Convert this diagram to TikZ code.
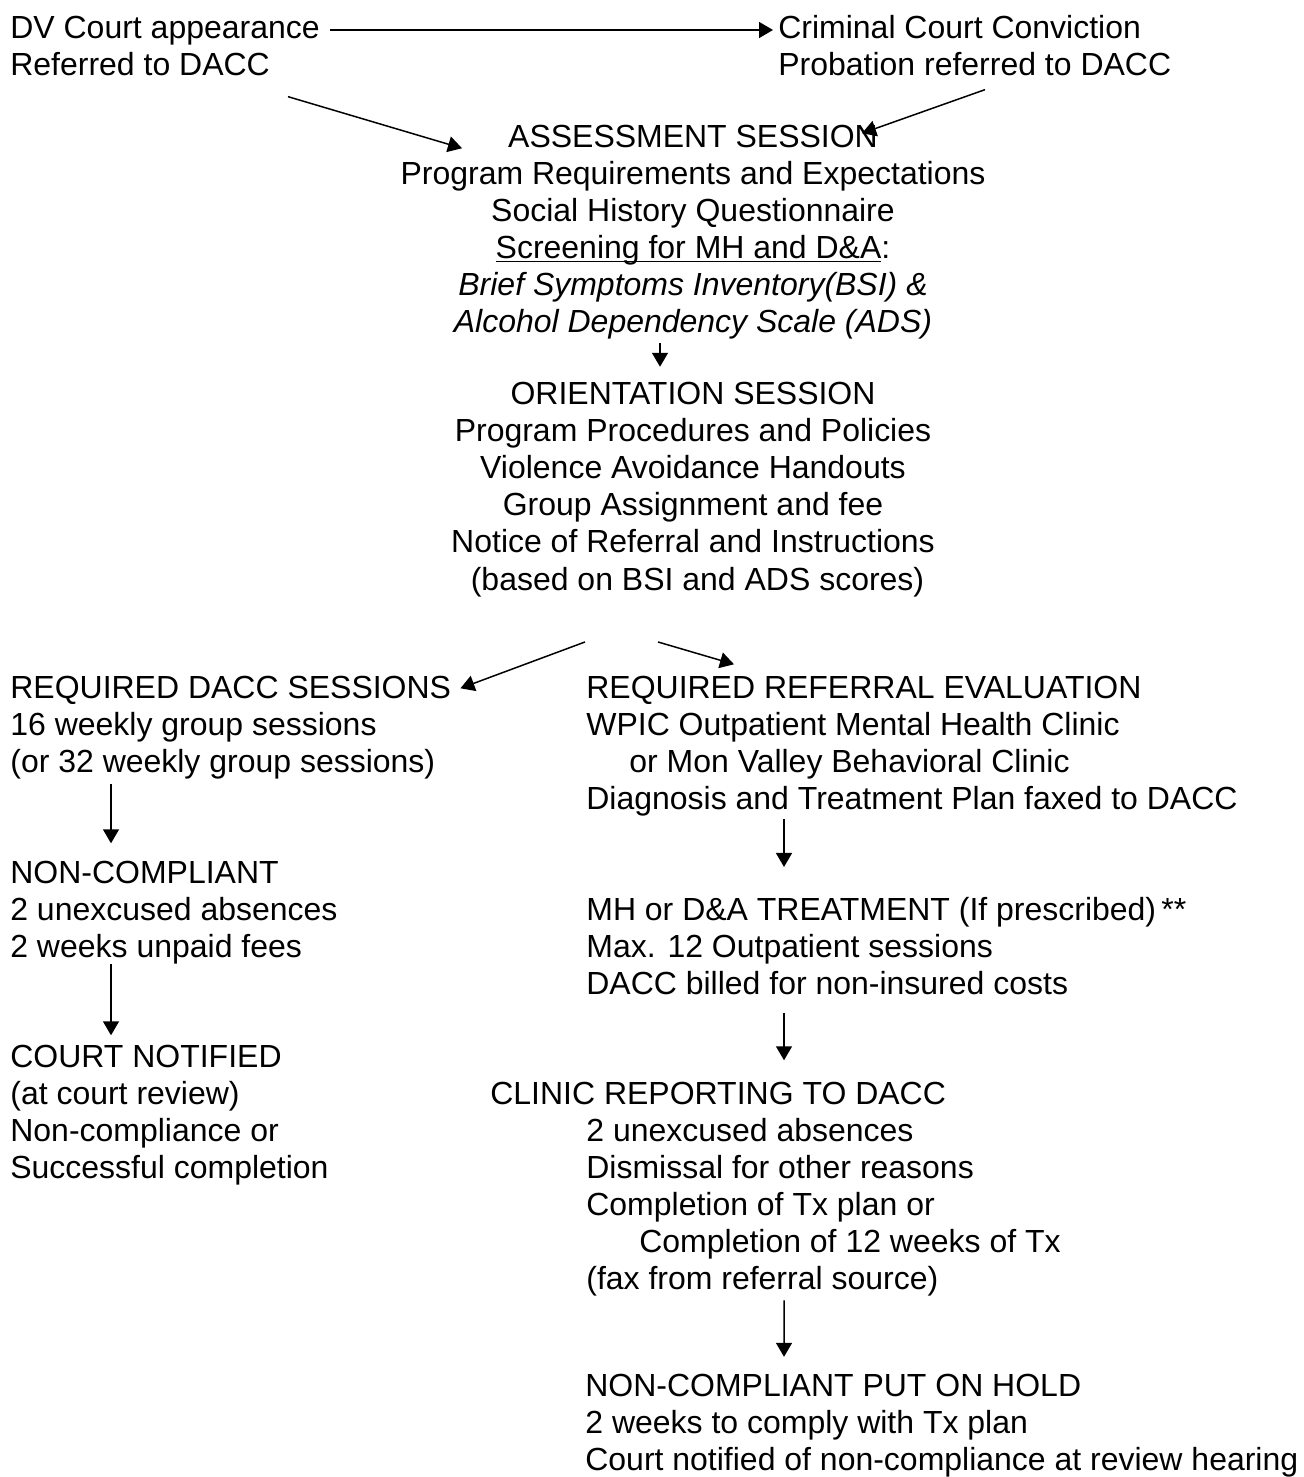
\documentclass[tikz,border=0pt]{standalone}
\usepackage{fontspec}
\setmainfont{Liberation Sans}
\usetikzlibrary{arrows.meta,positioning}
\newcommand{\ulinetext}[1]{\setbox0\hbox{#1}\rlap{\rule[-2.2pt]{\wd0}{0.9pt}}\box0}

\begin{document}
\begin{tikzpicture}[
			flowtext/.style={
				anchor=base west,
				align=left,
				inner sep=0pt,
				font=\fontsize{18.2}{21.06}\selectfont
			},
			centertext/.style={
				flowtext,
				anchor=base,
				align=center
			},
			flowarrow/.style={
				-{Triangle[length=0.28cm,width=0.32cm]},
				line width=0.85pt
			}
			]
			
			\useasboundingbox (0,0) rectangle (26.06,-29.54);
			
			\node[flowtext] (dvcourt) at (0.2,-1.51) {
				DV Court appearance\\
				Referred to DACC};
			
			\node[flowtext] (criminal) at (15.56,-1.51) {
				Criminal Court Conviction\\
				Probation referred to DACC};
			
			\node[centertext] (assess) at (13.86,-6.65) {
				ASSESSMENT SESSION\\
				Program Requirements and Expectations\\
				Social History Questionnaire\\
				\ulinetext{Screening for MH and D\&A}:\\
				\textit{Brief Symptoms Inventory(BSI) \&}\\
				\textit{Alcohol Dependency Scale (ADS)}};
			
			\node[centertext] (orient) at (13.86,-11.8) {
				ORIENTATION SESSION\\
				Program Procedures and Policies\\
				Violence Avoidance Handouts\\
				Group Assignment and fee\\
				Notice of Referral and Instructions\\
				\hspace*{0.18cm}(based on BSI and ADS scores)};
			
			\node[flowtext] (dacc) at (0.2,-15.45) {
				REQUIRED DACC SESSIONS\\
				16 weekly group sessions\\
				(or 32 weekly group sessions)};
			
			\node[flowtext] (referral) at (11.72,-16.19) {
				REQUIRED REFERRAL EVALUATION\\
				WPIC Outpatient Mental Health Clinic\\
				\hspace*{0.86cm}or Mon Valley Behavioral Clinic\\
				Diagnosis and Treatment Plan faxed to DACC};
			
			\node[flowtext] (noncomp) at (0.2,-19.15) {
				NON-COMPLIANT\\
				2 unexcused absences\\
				2 weeks unpaid fees};
			
			\node[flowtext] (treat) at (11.72,-19.89) {
				MH or D\&A TREATMENT (If prescribed)\,**\\
				Max. 12 Outpatient sessions\\
				DACC billed for non-insured costs};
			
			\node[flowtext] (court) at (0.2,-23.57) {
				COURT NOTIFIED\\
				(at court review)\\
				Non-compliance or\\
				Successful completion};
			
			\node[flowtext] (clinic) at (9.8,-25.79) {
				CLINIC REPORTING TO DACC\\
				\hspace*{1.92cm}2 unexcused absences\\
				\hspace*{1.92cm}Dismissal for other reasons\\
				\hspace*{1.92cm}Completion of Tx plan or\\
				\hspace*{2.98cm}Completion of 12 weeks of Tx\\
				\hspace*{1.92cm}(fax from referral source)};
			
			\node[flowtext] (hold) at (11.7,-29.4) {
				NON-COMPLIANT PUT ON HOLD\\
				2 weeks to comply with Tx plan\\
				Court notified of non-compliance at review hearing};
			
			\draw[flowarrow] ([xshift=0.2cm,yshift=0.91cm]dvcourt.base east) -- ([xshift=-0.1cm,yshift=0.91cm]criminal.base west);
			\draw[flowarrow] ([xshift=5.56cm,yshift=-0.41cm]dvcourt.south west) -- ([xshift=-4.62cm,yshift=-0.47cm]assess.north);
			\draw[flowarrow] ([xshift=4.14cm,yshift=-0.27cm]criminal.south west) -- ([xshift=3.38cm,yshift=-0.17cm]assess.north);
			\draw[flowarrow,shorten >=0.31cm] ([xshift=-0.66cm,yshift=-0.08cm]assess.south) -- ([xshift=-0.66cm]orient.north);
			\draw[flowarrow] ([xshift=-2.16cm,yshift=-0.9cm]orient.south) -- ([xshift=0.18cm,yshift=-0.25cm]dacc.north east);
			\draw[flowarrow] ([xshift=-0.7cm,yshift=-0.9cm]orient.south) -- ([xshift=2.96cm,yshift=0.23cm]referral.north west);
			\draw[flowarrow,shorten >=0.35cm] ([xshift=2.02cm,yshift=-0.1cm]dacc.south west) -- ([xshift=2.02cm]noncomp.north west);
			\draw[flowarrow,shorten >=0.19cm] ([xshift=2.02cm]noncomp.south west) -- ([xshift=2.02cm]court.north west);
			\draw[flowarrow,shorten >=0.6cm] ([xshift=3.96cm,yshift=-0.06cm]referral.south west) -- ([xshift=3.96cm]treat.north west);
			\draw[flowarrow,shorten >=0.43cm] ([xshift=3.96cm,yshift=-0.35cm]treat.south west) -- ([xshift=3.96cm]treat.south west |- clinic.north);
			\draw[flowarrow,shorten >=0.33cm] ([xshift=5.88cm,yshift=-0.08cm]clinic.south west) -- ([xshift=3.98cm]hold.north west);
			
		\end{tikzpicture}
\end{document}
